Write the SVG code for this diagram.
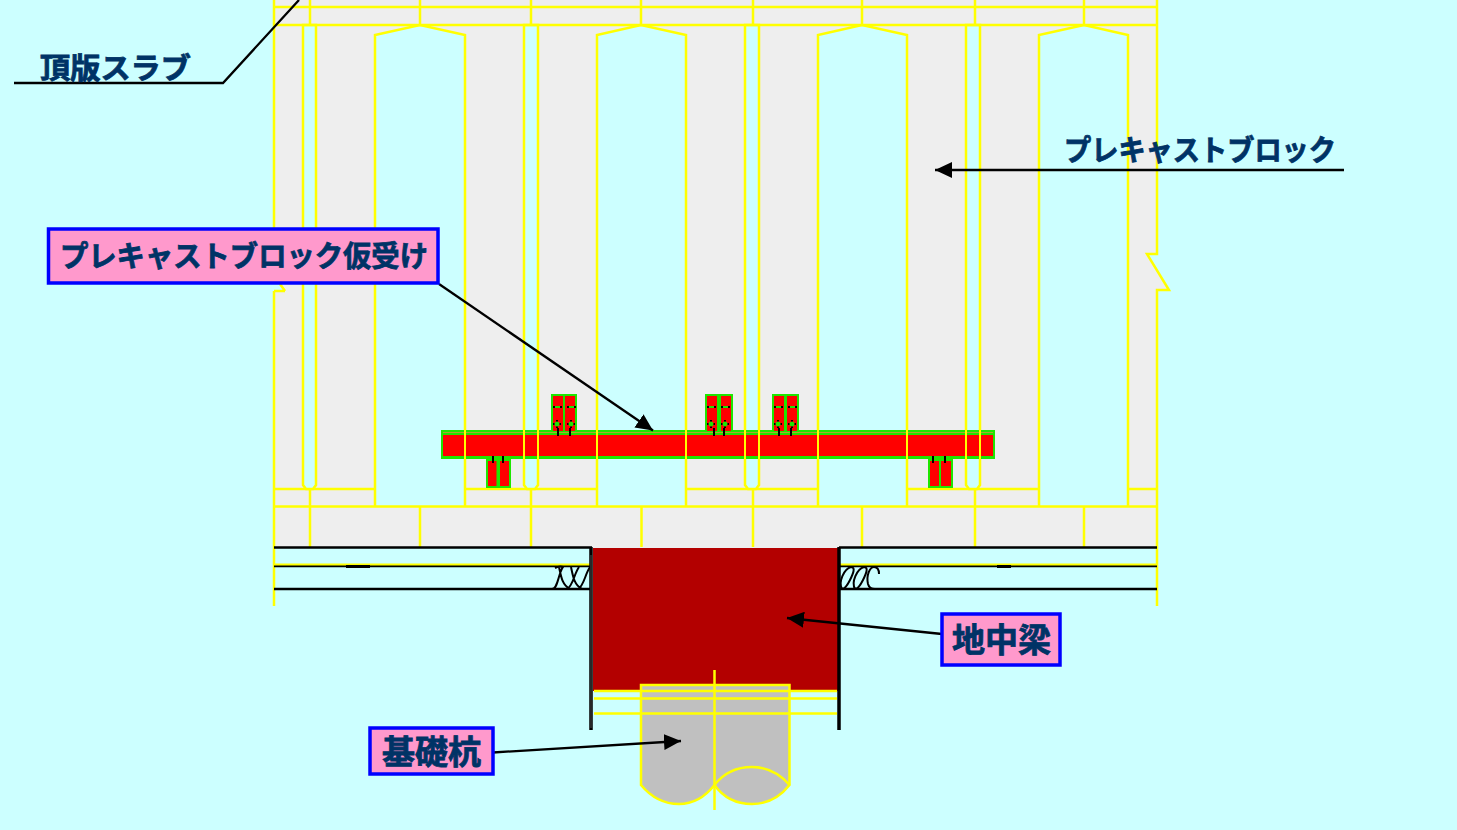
<svg xmlns="http://www.w3.org/2000/svg" width="1457" height="830" viewBox="0 0 1457 830">
<defs>
<style>
.y{fill:none;stroke:#ffff00;stroke-width:2.500}
.h{fill:#ccffff;stroke:#ffff00;stroke-width:2.500}
.k{fill:none;stroke:#000;stroke-width:2.300}
.g{fill:#1ee600}
.r{fill:#ff0000}
.t{fill:none;stroke:#000;stroke-width:2}
.bx{fill:#ff99cc;stroke:#0000ff;stroke-width:3.500}
text{font-family:"Noto Sans CJK JP","Noto Sans",sans-serif;font-weight:700;font-size:29px;fill:#003366;stroke:#003366;stroke-width:.8}
</style>
<marker id="a" markerUnits="userSpaceOnUse" markerWidth="18" markerHeight="16" refX="17" refY="8" orient="auto"><path d="M0 0L17 8L0 16Z" fill="#000"/></marker>
<g id="b1"><rect x="-2" y="-1" width="5" height="2" fill="#1ee600"/><path d="M-4-1h2v2h-2zM3-1h2v2h-2z" fill="#000"/></g>
<g id="b2"><circle r="2.500" fill="#1ee600"/><path d="M-1-4h2v1.500h-2zM-1 2.500h2v1.500h-2zM-4-1h1.500v2h-1.500zM2.500-1h1.500v2h-1.500z" fill="#000"/></g>
</defs>
<rect width="1457" height="830" fill="#ccffff"/>
<g id="structure">
<path d="M274 0H1157V254H1147L1169 290H1157V548H274V291H285L274 270Z" fill="#eeeeee"/>
<path class="y" d="M274 0V254M274 291V606M1157 0V254H1147L1169 290H1157V606M285 291H274M285 291L280 284"/>
<path class="y" d="M274 7H1157M274 489H375M465 489H597M686 489H818M907 489H1039M1128 489H1157"/>
<path class="y" d="M310 0V25M420 0V25M531 0V25M641 0V25M753 0V25M862 0V25M975 0V25M1084 0V25"/>
<path class="y" d="M310 489V547M420 506V547M531 489V547M641.500 506V547M753 489V547M862 506V547M975 489V547M1084 506V547"/>
<path class="h" d="M303 25V485L306 489H313L316 485V25Z"/>
<path class="h" d="M524 25V485L527 489H535L538 485V25Z"/>
<path class="h" d="M745 25V485L748 489H756L759 485V25Z"/>
<path class="h" d="M966 25V485L969 489H977L980 485V25Z"/>
<path class="h" d="M375 506V35L420 25L465 35V506"/>
<path class="h" d="M597 506V35L641 25L686 35V506"/>
<path class="h" d="M818 506V35L862 25L907 35V506"/>
<path class="h" d="M1039 506V35L1084 25L1128 35V506"/>
<path class="y" d="M274 506.500H1157M274 25H1157"/>
</g>
<g id="temporary-support">
<rect class="g" x="441" y="430" width="554" height="29"/>
<path d="M443 432.500H993" stroke="#a8a830" stroke-width="1"/>
<rect class="r" x="443" y="435" width="550" height="21"/>
<rect class="g" x="551" y="394" width="26" height="37"/><rect class="r" x="553" y="396" width="10" height="35"/><rect class="r" x="565" y="396" width="10" height="35"/>
<rect class="g" x="705" y="394" width="28" height="37"/><rect class="r" x="707" y="396" width="10" height="35"/><rect class="r" x="721" y="396" width="10" height="35"/>
<rect class="g" x="772" y="394" width="27" height="37"/><rect class="r" x="774" y="396" width="10" height="35"/><rect class="r" x="787" y="396" width="10" height="35"/>
<rect class="g" x="486" y="458" width="25" height="30"/><rect class="r" x="488" y="461" width="8.500" height="25"/><rect class="r" x="500" y="461" width="9" height="25"/>
<rect class="g" x="928" y="458" width="25" height="30"/><rect class="r" x="930" y="461" width="9" height="25"/><rect class="r" x="941" y="461" width="10" height="25"/>
<path d="M465 430V459M524 430V459M538 430V459M597 430V459M686 430V459M745 430V459M759 430V459M818 430V459M907 430V459M966 430V459M980 430V459" stroke="#ffff00" stroke-width="2"/>
<path class="t" d="M558 428V436M570 428V436M714 428V436M724 428V436M779 428V436M791 428V436M493 456V463M503 456V463M933 456V463M945 456V463"/>
<use href="#b1" x="557" y="407"/><use href="#b1" x="571" y="407"/><use href="#b2" x="557" y="424"/><use href="#b2" x="571" y="424"/>
<use href="#b1" x="711" y="407"/><use href="#b1" x="725" y="407"/><use href="#b2" x="711" y="424"/><use href="#b2" x="725" y="424"/>
<use href="#b1" x="778" y="407"/><use href="#b1" x="792" y="407"/><use href="#b2" x="778" y="424"/><use href="#b2" x="792" y="424"/>
</g>
<g id="beam">
<path class="k" d="M274 547.500H592M839 547.500H1157M274 566H591M839 566H1157M274 589H591M839 589H1157"/>
<path d="M274 564.500H590M840 564.500H1157" stroke="#ffff00" stroke-width="2"/>
<path d="M346 566.500H370M997 566.500H1011" stroke="#000" stroke-width="3"/>
<path d="M552 589C558 589 558 574 563 567C560 566 557 567 555 568M567 589C573 586 574 574 579 567M559 567C561 576 562 585 570 589M578 589C584 586 585 574 590 567M571 567C573 576 574 585 582 589" fill="none" stroke="#000" stroke-width="2"/>
<path d="M842 589C838 582 844 569 851 567C856 567 853 574 850 580C847 586 844 589 842 589ZM855 589C851 582 857 569 864 567C869 567 866 574 863 580C860 586 857 589 855 589ZM879 574C879 569 877 567 874 567C870 567 866 575 868 584C869 588 872 589 875 589" fill="none" stroke="#000" stroke-width="2"/>
<rect x="593" y="548" width="245" height="143" fill="#b30000"/>
<path d="M591 547V730M839 547V730" stroke="#000" stroke-width="3.500"/>
<path d="M591 555V728" stroke="#666" stroke-width=".8"/>
</g>
<g id="pile">
<path d="M641 785C651 797 664 804 679 804C693 804 705 797 714.500 785C723 797 734 804 752 804C768 804 780 797 789.500 785V685H641Z" fill="#c0c0c0" stroke="#ffff00" stroke-width="2.500"/>
<path class="y" d="M714.500 785C723 774 735 767 752 767C768 767 780 774 789.500 785"/>
<path class="y" d="M594 691H837M594 698.500H837M594 713.500H837M714.500 670V810"/>
</g>
<g id="connectors">
<path class="k" d="M14 83H223L299 0"/>
<path class="k" d="M1344 170H935" marker-end="url(#a)"/>
<path class="k" d="M439 284L653 430.500" marker-end="url(#a)"/>
<path class="k" d="M942 634L787 618" marker-end="url(#a)"/>
<path class="k" d="M493 752.500L681 741" marker-end="url(#a)"/>
</g>
<g id="label-slab"><text x="40" y="79" font-size="30" textLength="151" lengthAdjust="spacingAndGlyphs">頂版スラブ</text></g>
<g id="label-block"><text x="1064" y="161" textLength="272" lengthAdjust="spacingAndGlyphs">プレキャストブロック</text></g>
<g id="label-support"><rect class="bx" x="48.500" y="229" width="389.500" height="54"/><text x="60" y="267" textLength="368" lengthAdjust="spacingAndGlyphs">プレキャストブロック仮受け</text></g>
<g id="label-beam"><rect class="bx" x="942" y="614" width="118" height="51"/><text x="952" y="652" style="font-size:33px" textLength="99" lengthAdjust="spacingAndGlyphs">地中梁</text></g>
<g id="label-pile"><rect class="bx" x="370" y="728" width="123" height="46"/><text x="382" y="764" style="font-size:33px" textLength="99" lengthAdjust="spacingAndGlyphs">基礎杭</text></g>
</svg>
